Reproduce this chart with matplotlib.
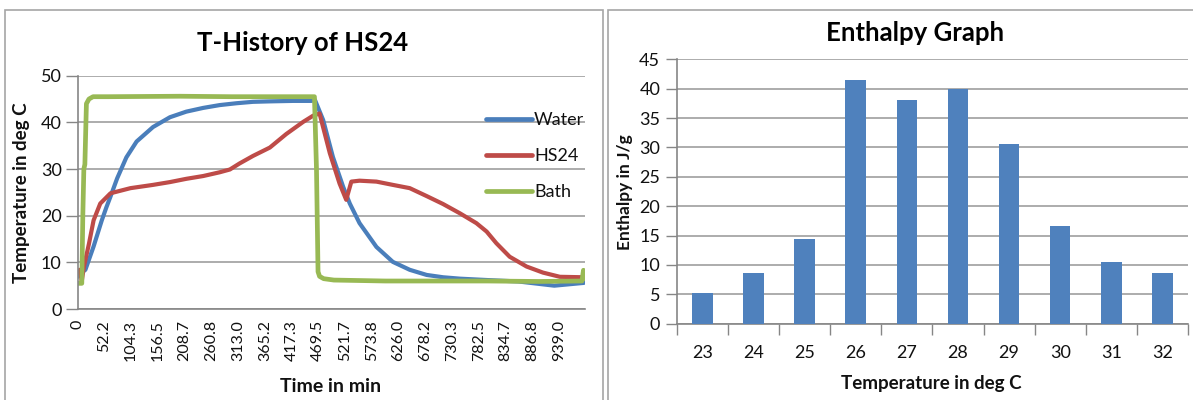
import matplotlib
matplotlib.use("Agg")
import matplotlib.pyplot as plt
from matplotlib.patches import Rectangle
from matplotlib.ticker import FixedLocator

plt.rcParams['font.family'] = ['Lato', 'DejaVu Sans']

# ---- Left chart data (T-History of HS24) ----
water_t = [0, 5, 15, 31, 47, 56, 64, 77, 95, 115, 147, 180, 212, 245, 277, 310, 342, 375, 420, 456,
           463, 479, 498, 518, 531, 550, 583, 615, 648, 681, 713, 746, 800, 860, 930, 988]
water_T = [6.9, 7.6, 8.4, 13.4, 19.0, 21.8, 24.1, 28.0, 32.5, 35.9, 39.0, 41.1, 42.3, 43.1, 43.7, 44.1,
           44.4, 44.5, 44.6, 44.6, 44.8, 40.5, 32.6, 26.2, 22.6, 18.4, 13.3, 10.1, 8.4, 7.3, 6.8, 6.5,
           6.2, 5.9, 5.0, 5.6]

hs24_t = [0, 4, 8, 12, 22, 31, 44, 64, 103, 147, 180, 212, 245, 277, 297, 316, 342, 375, 407, 440,
          459, 472, 492, 511, 524, 534, 550, 583, 615, 648, 681, 713, 746, 778, 798, 817, 843, 876,
          908, 941, 988]
hs24_T = [8.0, 8.4, 6.0, 9.0, 14.0, 19.0, 22.6, 24.8, 25.9, 26.6, 27.2, 27.9, 28.5, 29.3, 29.9, 31.2,
          32.8, 34.6, 37.5, 40.1, 41.4, 41.9, 33.4, 26.9, 23.4, 27.3, 27.5, 27.3, 26.6, 25.9, 24.2,
          22.5, 20.5, 18.4, 16.6, 14.1, 11.2, 9.1, 7.8, 6.9, 6.8]

bath_t = [0, 8, 10, 12, 14, 17, 22, 30, 60, 200, 300, 400, 462, 466, 469, 472, 480, 500, 600, 700,
          800, 900, 984, 987, 990]
bath_T = [5.5, 5.5, 20.0, 30.0, 31.0, 44.0, 45.0, 45.5, 45.5, 45.6, 45.5, 45.5, 45.5, 30.0, 8.0, 7.0,
          6.5, 6.2, 6.0, 6.0, 6.0, 5.9, 6.0, 8.3, 6.5]

time_labels = ["0", "52.2", "104.3", "156.5", "208.7", "260.8", "313.0", "365.2", "417.3", "469.5",
               "521.7", "573.8", "626.0", "678.2", "730.3", "782.5", "834.7", "886.8", "939.0"]

# ---- Right chart data (Enthalpy Graph) ----
temps = ["23", "24", "25", "26", "27", "28", "29", "30", "31", "32"]
enthalpy = [5.3, 8.6, 14.5, 41.4, 38.0, 40.0, 30.5, 16.7, 10.5, 8.6]

W, H = 1193, 400
fig = plt.figure(figsize=(W / 100, H / 100), dpi=100)
fig.patch.set_facecolor('white')

def fx(px):
    return px / W

def fy(py):
    return 1 - py / H

# Chart frames
fig.add_artist(Rectangle((fx(5), fy(402)), fx(598), fy(9.5) - fy(402), transform=fig.transFigure,
                         fill=False, edgecolor='#a6a6a6', lw=1.2))
fig.add_artist(Rectangle((fx(608), fy(402)), fx(600), fy(9.5) - fy(402), transform=fig.transFigure,
                         fill=False, edgecolor='#a6a6a6', lw=1.2))

axis_col = '#868686'
grid_col = '#969696'
txt_col = '#111111'

# ---------------- Left axes ----------------
ax1 = fig.add_axes([fx(77.7), fy(309), fx(585) - fx(77.7), fy(75.7) - fy(309)])
ax1.plot(water_t, water_T, color='#4a7ebb', lw=3.0, solid_capstyle='round', label='Water')
ax1.plot(hs24_t, hs24_T, color='#be4b48', lw=3.0, solid_capstyle='round', label='HS24')
ax1.plot(bath_t, bath_T, color='#98b954', lw=3.4, solid_capstyle='round', label='Bath')
ax1.set_xlim(0, 990)
ax1.set_ylim(0, 50)
ax1.set_yticks([0, 10, 20, 30, 40, 50])
ax1.set_xticks([float(s) for s in time_labels])
ax1.set_xticklabels(time_labels, rotation=90, fontsize=11.5, color=txt_col)
ax1.tick_params(axis='x', length=0, pad=8)
ax1.tick_params(axis='y', length=8.5, width=1, color=axis_col, labelsize=13, labelcolor=txt_col, pad=3)
for s in ['top', 'right']:
    ax1.spines[s].set_visible(False)
for s in ['left', 'bottom']:
    ax1.spines[s].set_color(axis_col)
    ax1.spines[s].set_linewidth(1.2)
ax1.grid(axis='y', color=grid_col, lw=1.1)
ax1.set_axisbelow(True)
leg = ax1.legend(loc='upper left', frameon=False,
                 fontsize=13, handlelength=2.55, handletextpad=0.1, labelspacing=1.1,
                 borderaxespad=0)
leg.set_bbox_to_anchor((fx(479), fy(105)), transform=fig.transFigure)
for t in leg.get_texts():
    t.set_color(txt_col)
for ln in leg.get_lines():
    ln.set_linewidth(3.4)

fig.text(fx(303), fy(43), "T-History of HS24", ha='center', va='center', fontsize=18.5,
         fontweight='bold', color='black')
fig.text(fx(331), fy(387), "Time in min", ha='center', va='center', fontsize=14,
         fontweight='bold', color=txt_col)
fig.text(fx(22), fy(193), "Temperature in deg C", ha='center', va='center', rotation=90,
         fontsize=13.5, fontweight='bold', color=txt_col)

# ---------------- Right axes ----------------
ax2 = fig.add_axes([fx(676.8), fy(323.7), fx(1188) - fx(676.8), fy(59.3) - fy(323.7)])
xpos = list(range(len(temps)))
ax2.bar(xpos, enthalpy, width=0.4, color='#4f81bd', zorder=3)
ax2.set_xlim(-0.5, len(temps) - 0.5)
ax2.set_ylim(0, 45)
ax2.set_yticks(range(0, 46, 5))
ax2.set_xticks(xpos)
ax2.set_xticklabels(temps, fontsize=13, color=txt_col)
ax2.xaxis.set_minor_locator(FixedLocator([i - 0.5 for i in range(len(temps) + 1)]))
ax2.tick_params(axis='x', which='major', length=0, pad=15)
ax2.tick_params(axis='x', which='minor', length=8, width=1, color=axis_col)
ax2.tick_params(axis='y', length=8, width=1, color=axis_col, labelsize=13, labelcolor=txt_col, pad=4)
for s in ['top', 'right']:
    ax2.spines[s].set_visible(False)
for s in ['left', 'bottom']:
    ax2.spines[s].set_color(axis_col)
    ax2.spines[s].set_linewidth(1.2)
ax2.grid(axis='y', color=grid_col, lw=1.1, zorder=0)
ax2.set_axisbelow(True)

fig.text(fx(915), fy(33), "Enthalpy Graph", ha='center', va='center', fontsize=18.5,
         fontweight='bold', color='black')
fig.text(fx(931), fy(383), "Temperature in deg C", ha='center', va='center', fontsize=13.5,
         fontweight='bold', color=txt_col)
fig.text(fx(625), fy(192), "Enthalpy in J/g", ha='center', va='center', rotation=90,
         fontsize=12.5, fontweight='bold', color=txt_col)

fig.savefig("out.png", dpi=100, facecolor='white')
